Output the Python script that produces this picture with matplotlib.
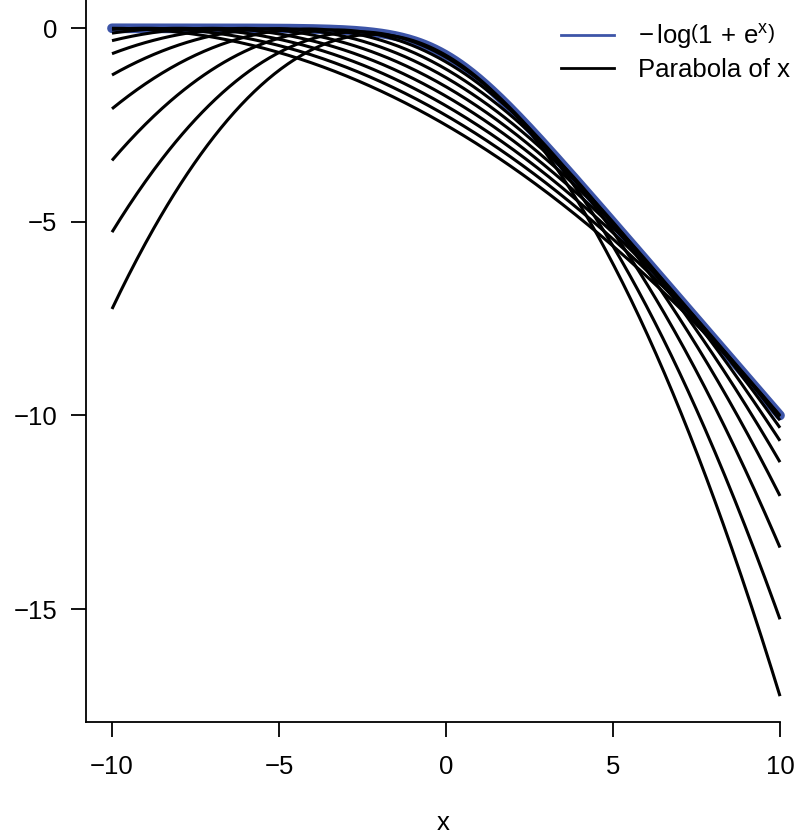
import numpy as np
import matplotlib
matplotlib.use("Agg")
import matplotlib.pyplot as plt
from matplotlib.lines import Line2D

plt.rcParams['font.family'] = ['Liberation Sans', 'DejaVu Sans']
plt.rcParams['mathtext.fontset'] = 'custom'
plt.rcParams['mathtext.rm'] = 'Liberation Sans'
plt.rcParams['mathtext.it'] = 'Liberation Sans'

# Data
x_min, x_max = -10, 10
xi_values = [1, 2, 3, 4, 5, 6, 7, 8, 9, 10]   # touching points of the quadratic bounds
x_ticks = [-10, -5, 0, 5, 10]
x_tick_labels = ['\u221210', '\u22125', '0', '5', '10']
y_ticks = [0, -5, -10, -15]
y_tick_labels = ['0', '\u22125', '\u221210', '\u221215']
legend_labels = [r'$-\,\mathrm{log}\left(1\,+\,\mathrm{e}^{\mathrm{x}}\right)$', 'Parabola of x']

x = np.linspace(x_min, x_max, 400)
f = -np.log1p(np.exp(x))

def log_sigmoid(z):
    return -np.log1p(np.exp(-z))

fig = plt.figure(figsize=(8.0, 8.39), dpi=100)
ax = fig.add_axes([85.7 / 800, 117 / 839, 1 - 85.7 / 800, 1 - 117 / 839])

blue = '#3D55A8'
ax.plot(x, f, color=blue, lw=7.0, solid_capstyle='round', zorder=2)
for xi in xi_values:
    lam = np.tanh(xi / 2) / (4 * xi)
    g = log_sigmoid(xi) - (x + xi) / 2 - lam * (x ** 2 - xi ** 2)
    ax.plot(x, g, color='black', lw=2.2, solid_capstyle='butt', zorder=3)

sx = (780 - 112) / 20.0
sy = (609 - 28.3) / 15.0
ax.set_xlim(-10 - (112 - 85.7) / sx, 10 + (800 - 780) / sx)
ax.set_ylim(-(722 - 28.3) / sy, 28.3 / sy)

ax.spines['top'].set_visible(False)
ax.spines['right'].set_visible(False)
ax.spines['bottom'].set_bounds(ax.get_xlim()[0], 10)
for s in ('left', 'bottom'):
    ax.spines[s].set_linewidth(1.3)

ax.set_xticks(x_ticks)
ax.set_xticklabels(x_tick_labels)
ax.set_yticks(y_ticks)
ax.set_yticklabels(y_tick_labels)
ax.tick_params(axis='both', direction='out', length=10.5, width=1.3, labelsize=18.5)
ax.tick_params(axis='x', pad=13)
ax.tick_params(axis='y', pad=10)
ax.set_xlabel('x', fontsize=18.5, labelpad=23)

handles = [Line2D([], [], color=blue, lw=2.0), Line2D([], [], color='black', lw=2.0)]
leg = ax.legend(handles, legend_labels, loc='upper right', frameon=False, fontsize=18.5,
                bbox_to_anchor=(1.01, 0.992), handlelength=2.05, handletextpad=0.95,
                labelspacing=0.25, borderaxespad=0.25)

fig.savefig('out.png', dpi=100)
